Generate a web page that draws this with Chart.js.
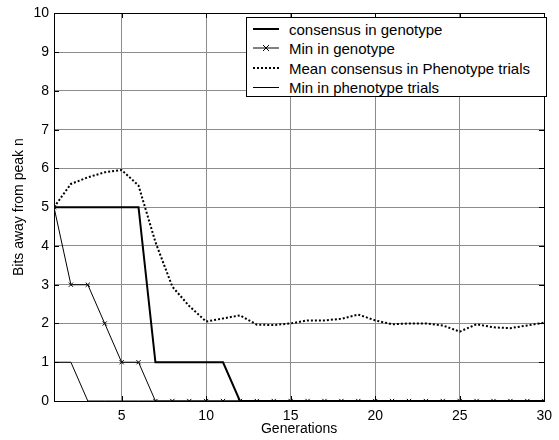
<!DOCTYPE html>
<html lang="en">
<head>
<meta charset="UTF-8">
<title>Bits away from peak n</title>
<script src="https://cdn.jsdelivr.net/npm/chart.js@4.4.0/dist/chart.umd.min.js"></script>
<style>
  body { margin: 0; background: #fff; }
  .wrap { position: relative; width: 559px; height: 440px; }
  .legend {
    position: absolute; left: 246px; top: 17px; width: 301px; height: 80px;
    border: 1px solid #000; background: #fff; box-sizing: border-box;
    font-family: 'Liberation Sans', Arial, sans-serif; font-size: 15px; color: #000;
  }
  .legend .row { position: absolute; left: 0; width: 100%; height: 19px; line-height: 19px; }
  .legend svg { position: absolute; left: 6px; top: 4px; }
  .legend span { position: absolute; left: 42px; white-space: nowrap; }
</style>
</head>
<body>
<div class="wrap">
  <canvas id="chart" width="559" height="440"></canvas>
  <div class="legend" id="legend"></div>
</div>
<script>
const generations = [1,2,3,4,5,6,7,8,9,10,11,12,13,14,15,16,17,18,19,20,21,22,23,24,25,26,27,28,29,30];
const consensusGenotype = [5,5,5,5,5,5,1,1,1,1,1,0,0,0,0,0,0,0,0,0,0,0,0,0,0,0,0,0,0,0];
const minGenotype = [5,3,3,2,1,1,0,0,0,0,0,0,0,0,0,0,0,0,0,0,0,0,0,0,0,0,0,0,0,0];
const meanConsensusPhenotype = [5,5.6,5.77,5.9,5.96,5.56,4.1,2.95,2.45,2.05,2.13,2.21,1.97,1.96,2.0,2.08,2.08,2.12,2.23,2.08,1.98,2.0,2.0,1.95,1.79,1.98,1.9,1.88,1.95,2.02];
const minPhenotype = [1,1,0,0,0,0,0,0,0,0,0,0,0,0,0,0,0,0,0,0,0,0,0,0,0,0,0,0,0,0];
const seriesLabels = ['consensus in genotype', 'Min in genotype', 'Mean consensus in Phenotype trials', 'Min in phenotype trials'];
const xTicks = [5,10,15,20,25,30];
const yTicks = [0,1,2,3,4,5,6,7,8,9,10];

const font = { family: "'Liberation Sans', Arial, sans-serif", size: 14 };
const toPoints = vals => vals.map((v, i) => ({ x: generations[i], y: v }));

// solid box and inward tick marks like matlab
const framePlugin = {
  id: 'frame',
  afterDraw(chart) {
    const { ctx, chartArea: a, scales } = chart;
    const l = Math.round(a.left), r = Math.round(a.right);
    const t = Math.round(a.top), b = Math.round(a.bottom);
    ctx.save();
    ctx.fillStyle = '#000';
    ctx.fillRect(l, t, r - l + 1, 1);
    ctx.fillRect(l, b, r - l + 1, 1);
    ctx.fillRect(l, t, 1, b - t + 1);
    ctx.fillRect(r, t, 1, b - t + 1);
    xTicks.forEach(v => {
      const px = Math.round(scales.x.getPixelForValue(v));
      ctx.fillRect(px, b - 5, 1, 5);
      ctx.fillRect(px, t, 1, 5);
    });
    yTicks.forEach(v => {
      const py = Math.round(scales.y.getPixelForValue(v));
      ctx.fillRect(l, py, 5, 1);
      ctx.fillRect(r - 5, py, 5, 1);
    });
    ctx.restore();
  }
};

// dashed grid never showed up in the picture, so a grey solid grid stands in for it
const gridOpts = { color: '#8c8c8c', lineWidth: 1, drawTicks: false };

new Chart(document.getElementById('chart'), {
  type: 'line',
  data: {
    datasets: [
      { label: seriesLabels[0], data: toPoints(consensusGenotype), borderColor: '#000', borderWidth: 2, pointRadius: 0 },
      { label: seriesLabels[1], data: toPoints(minGenotype), borderColor: '#000', borderWidth: 1,
        pointStyle: 'crossRot', pointRadius: 3, pointBorderWidth: 1, pointBorderColor: '#000' },
      { label: seriesLabels[2], data: toPoints(meanConsensusPhenotype), borderColor: '#000', borderWidth: 2,
        borderDash: [2, 2], pointRadius: 0 },
      { label: seriesLabels[3], data: toPoints(minPhenotype), borderColor: '#000', borderWidth: 1, pointRadius: 0 }
    ]
  },
  options: {
    responsive: false,
    animation: false,
    devicePixelRatio: 1,
    layout: { padding: { left: 0, right: 10, top: 10, bottom: 0 } },
    elements: { line: { tension: 0 } },
    plugins: { legend: { display: false }, tooltip: { enabled: false } },
    scales: {
      x: {
        type: 'linear', min: 1, max: 30,
        afterBuildTicks: s => { s.ticks = xTicks.map(v => ({ value: v })); },
        afterFit: s => { s.height = 39; },
        grid: gridOpts,
        border: { display: false },
        ticks: { color: '#000', font: font, padding: 7, maxRotation: 0, autoSkip: false },
        title: { display: true, text: 'Generations', color: '#000', font: font, padding: { top: 2, bottom: 2 } }
      },
      y: {
        min: 0, max: 10,
        afterBuildTicks: s => { s.ticks = yTicks.map(v => ({ value: v })); },
        afterFit: s => { s.width = 54; },
        grid: gridOpts,
        border: { display: false },
        ticks: { color: '#000', font: font, padding: 5, autoSkip: false },
        title: { display: true, text: 'Bits away from peak n', color: '#000', font: font, padding: { top: 11, bottom: 11 } }
      }
    }
  },
  plugins: [framePlugin]
});

// legend box
const samples = [
  '<line x1="0" y1="5" x2="26" y2="5" stroke="#000" stroke-width="2"/>',
  '<line x1="0" y1="5" x2="26" y2="5" stroke="#000" stroke-width="1"/><path d="M10 2 L16 8 M16 2 L10 8" stroke="#000" stroke-width="1"/>',
  '<line x1="0" y1="5" x2="26" y2="5" stroke="#000" stroke-width="2" stroke-dasharray="2 2"/>',
  '<line x1="0" y1="5.5" x2="26" y2="5.5" stroke="#000" stroke-width="1"/>'
];
const legend = document.getElementById('legend');
seriesLabels.forEach((name, i) => {
  const row = document.createElement('div');
  row.className = 'row';
  row.style.top = (2 + i * 19.3) + 'px';
  row.innerHTML = '<svg width="26" height="10">' + samples[i] + '</svg><span>' + name + '</span>';
  legend.appendChild(row);
});
</script>
</body>
</html>
